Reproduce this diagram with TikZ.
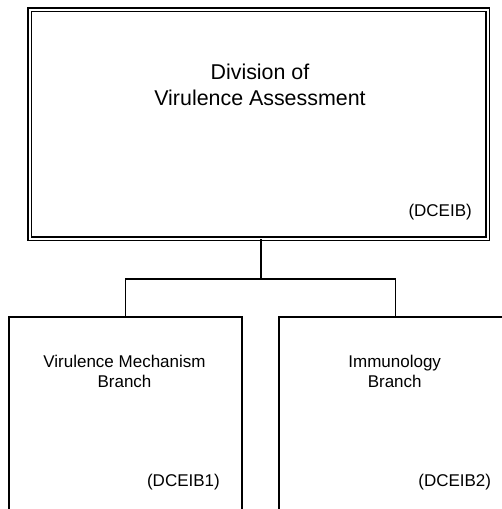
\documentclass[tikz,border=0pt]{standalone}
\usepackage{fontspec}
\setmainfont{Liberation Sans}

\begin{document}
\begin{tikzpicture}[x=1pt, y=-1pt,
    topbox/.style={draw, double, line width=1.3pt, double distance=2pt,
      minimum width=458pt, minimum height=229pt, inner sep=0pt},
    unitbox/.style={draw, line width=1.5pt, minimum width=233pt,
      minimum height=230pt, inner sep=0pt},
    bigtext/.style={anchor=north, inner sep=0pt, align=center,
      font=\fontsize{21.4}{25.7}\selectfont},
    smalltext/.style={anchor=north, inner sep=0pt, align=center,
      font=\fontsize{17}{20.4}\selectfont},
    code/.style={anchor=base east, inner sep=0pt,
      font=\fontsize{17}{20.4}\selectfont}]
    \useasboundingbox (0,0) rectangle (502,509);
    \clip (0,0) rectangle (502,509);

    % division
    \node[topbox] (div) at (258.7,124.1) {};
    \node[bigtext] (divname) at (260,63.7) {Division of\\Virulence Assessment};
    \node[code] (divcode) at (472,216.7) {(DCEIB)};

    % branches
    \node[unitbox] (vmb) at (125.5,432) {};
    \node[smalltext] (vmbname) at (124.5,355) {Virulence Mechanism\\Branch};
    \node[code] (vmbcode) at (220,486.7) {(DCEIB1)};

    \node[unitbox] (imb) at (395.5,432) {};
    \node[smalltext] (imbname) at (394.7,355) {Immunology\\Branch};
    \node[code] (imbcode) at (491.3,486.7) {(DCEIB2)};

    % connectors
    \coordinate (fork) at (261,279);
    \draw[line width=1.5pt] (fork) -- (fork |- div.south);
    \draw[line width=1.5pt] (vmb.north) |- (fork) -| (imb.north);
\end{tikzpicture}
\end{document}
